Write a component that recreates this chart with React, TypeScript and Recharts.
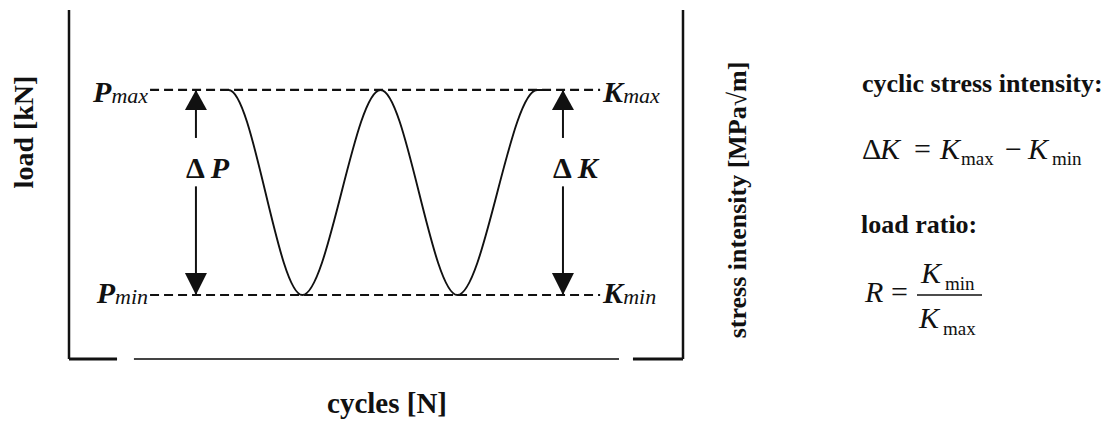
import { LineChart, Line, XAxis, YAxis, ReferenceLine, ReferenceDot } from 'recharts'

// turning points of the load signal
// (cycles, normalised load: 1 = Pmax, 0 = Pmin); the ends stay flat on Pmax
const cycles = [0.99, 1.04, 1.52, 2.03, 2.53, 3.05, 3.1]
const load = [1, 1, 0, 1, 0, 1, 1]

const P_MAX = 1
const P_MIN = 0
const xDomain: [number, number] = [0, 4]
const yDomain: [number, number] = [-0.312, 1.39]

// dashed guide lines and arrows
const guideFrom = 0.528
const guideTo = 3.46
const arrowX = [0.827, 3.218]
const arrowLabels = ['P', 'K']
const arrowGap = [0.53, 0.766] // where the shaft is broken for the Δ label
const labelLevel = 0.57

// frame: bottom edge is drawn in three pieces
const frameBottom = [
  [0, 0.313],
  [0.423, 3.583],
  [3.674, 4],
]

const data = cycles.map((t, i) => ({ t, load: load[i] }))

const serif = '"Liberation Serif", "Times New Roman", serif'
const ink = '#111'

const upHead = (p: any) => (
  <path d={`M${p.cx},${p.cy} L${p.cx - 11},${p.cy + 20} L${p.cx + 11},${p.cy + 20} Z`} fill={ink} />
)
const downHead = (p: any) => (
  <path d={`M${p.cx},${p.cy} L${p.cx - 11},${p.cy - 22} L${p.cx + 11},${p.cy - 22} Z`} fill={ink} />
)

const deltaLabel = (sym: string) => (p: any) => (
  <text x={p.cx - 10} y={p.cy} fontFamily={serif} fontSize={30} fontWeight="bold" fill={ink}>
    Δ<tspan dx={6} fontStyle="italic">{sym}</tspan>
  </text>
)

const levelLabel = (sym: string, sub: string, side: 'left' | 'right', dy: number) => (p: any) => (
  <text
    x={side === 'left' ? p.cx - 2 : p.cx + 3}
    y={p.cy + dy}
    textAnchor={side === 'left' ? 'end' : 'start'}
    fontFamily={serif}
    fill={ink}
  >
    <tspan fontSize={30} fontWeight="bold" fontStyle="italic">{sym}</tspan>
    <tspan fontSize={22} fontStyle="italic" dy={1}>{sub}</tspan>
  </text>
)

export default function App() {
  return (
    <div style={{ position: 'absolute', left: 0, top: 0, width: 1107, height: 423, background: '#fff' }}>
      <LineChart
        width={1107}
        height={423}
        data={data}
        margin={{ top: 10, right: 424, bottom: 64, left: 69 }}
      >
        <XAxis type="number" dataKey="t" domain={xDomain} allowDataOverflow hide />
        <YAxis type="number" domain={yDomain} allowDataOverflow hide />

        {/* frame */}
        <ReferenceLine segment={[{ x: xDomain[0], y: yDomain[0] }, { x: xDomain[0], y: yDomain[1] }]} stroke={ink} strokeWidth={2.5} ifOverflow="visible" />
        <ReferenceLine segment={[{ x: xDomain[1], y: yDomain[0] }, { x: xDomain[1], y: yDomain[1] }]} stroke={ink} strokeWidth={2.5} ifOverflow="visible" />
        {frameBottom.map(([a, b], i) => (
          <ReferenceLine
            key={i}
            segment={[{ x: a, y: yDomain[0] }, { x: b, y: yDomain[0] }]}
            stroke={i === 1 ? '#444' : ink}
            strokeWidth={i === 1 ? 2 : 3}
            ifOverflow="visible"
          />
        ))}

        {/* Pmax / Pmin guides */}
        {[P_MAX, P_MIN].map((lv) => (
          <ReferenceLine
            key={lv}
            segment={[{ x: guideFrom, y: lv }, { x: guideTo, y: lv }]}
            stroke={ink}
            strokeWidth={2.2}
            strokeDasharray="9 5"
            ifOverflow="visible"
          />
        ))}

        {/* ΔP and ΔK arrows */}
        {arrowX.map((x, i) => [
          <ReferenceLine key={`a${i}`} segment={[{ x, y: P_MAX }, { x, y: arrowGap[1] }]} stroke={ink} strokeWidth={2} ifOverflow="visible" />,
          <ReferenceLine key={`b${i}`} segment={[{ x, y: arrowGap[0] }, { x, y: P_MIN }]} stroke={ink} strokeWidth={2} ifOverflow="visible" />,
          <ReferenceDot key={`c${i}`} x={x} y={P_MAX} shape={upHead} ifOverflow="visible" />,
          <ReferenceDot key={`d${i}`} x={x} y={P_MIN} shape={downHead} ifOverflow="visible" />,
          <ReferenceDot key={`e${i}`} x={x} y={labelLevel} shape={deltaLabel(arrowLabels[i])} ifOverflow="visible" />,
        ])}

        <ReferenceDot x={guideFrom} y={P_MAX} shape={levelLabel('P', 'max', 'left', 12)} ifOverflow="visible" />
        <ReferenceDot x={guideFrom} y={P_MIN} shape={levelLabel('P', 'min', 'left', 8)} ifOverflow="visible" />
        <ReferenceDot x={guideTo} y={P_MAX} shape={levelLabel('K', 'max', 'right', 12)} ifOverflow="visible" />
        <ReferenceDot x={guideTo} y={P_MIN} shape={levelLabel('K', 'min', 'right', 8)} ifOverflow="visible" />

        <Line
          type="monotone"
          dataKey="load"
          stroke={ink}
          strokeWidth={1.9}
          dot={false}
          activeDot={false}
          isAnimationActive={false}
        />
      </LineChart>

      <svg width={1107} height={423} style={{ position: 'absolute', left: 0, top: 0, pointerEvents: 'none' }}>
        <g fontFamily={serif} fill={ink}>
          <text x={33} y={132} transform="rotate(-90 33 132)" textAnchor="middle" fontSize={28} fontWeight="bold">load [kN]</text>
          <text x={746} y={200} transform="rotate(-90 746 200)" textAnchor="middle" fontSize={26} fontWeight="bold">stress intensity [MPa√m]</text>
          <text x={387} y={413} textAnchor="middle" fontSize={29} fontWeight="bold">cycles [N]</text>

          <text x={862} y={92} fontSize={26} fontWeight="bold">cyclic stress intensity:</text>
          <text y={159} fontSize={30}>
            <tspan x={862}>Δ</tspan>
            <tspan x={880} fontStyle="italic">K</tspan>
            <tspan x={914}>=</tspan>
            <tspan x={940} fontStyle="italic">K</tspan>
            <tspan x={961} y={165} fontSize={19}>max</tspan>
            <tspan x={1005} y={159}>−</tspan>
            <tspan x={1028} fontStyle="italic">K</tspan>
            <tspan x={1052} y={165} fontSize={19}>min</tspan>
          </text>

          <text x={861} y={233} fontSize={26} fontWeight="bold">load ratio:</text>
          <text y={302} fontSize={30}>
            <tspan x={865} fontStyle="italic">R</tspan>
            <tspan x={891}>=</tspan>
          </text>
          <line x1={917} x2={982} y1={295} y2={295} stroke={ink} strokeWidth={1.5} />
          <text y={283} fontSize={30}>
            <tspan x={921} fontStyle="italic">K</tspan>
            <tspan x={945} y={290} fontSize={19}>min</tspan>
          </text>
          <text y={328} fontSize={30}>
            <tspan x={919} fontStyle="italic">K</tspan>
            <tspan x={943} y={335} fontSize={19}>max</tspan>
          </text>
        </g>
      </svg>
    </div>
  )
}
